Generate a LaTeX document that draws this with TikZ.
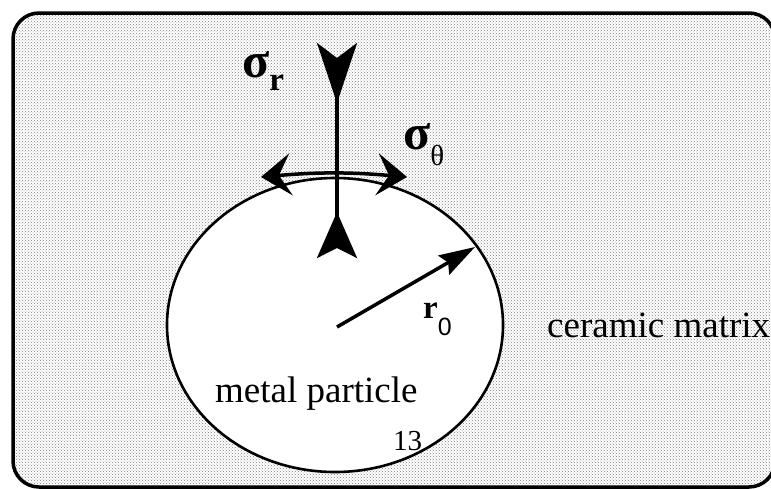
\documentclass[tikz,border=0pt]{standalone}
\usepackage{fontspec}
\setmainfont{Liberation Serif}
\newfontfamily\helv{Liberation Sans}
\usetikzlibrary{arrows.meta,patterns}

\begin{document}
\begin{tikzpicture}[
    x=1pt, y=-1pt,
    matrixbg/.style={line width=3.5pt, rounded corners=26pt, pattern=crosshatch dots, pattern color=black!50},
    particle/.style={line width=2.6pt, fill=white},
    radial/.style={line width=3.5pt},
    hoop/.style={line width=3.5pt, {Stealth[length=30pt,width=42pt,inset=12pt]}-{Stealth[length=30pt,width=42pt,inset=12pt]}},
    radius/.style={line width=3.5pt, -{Stealth[length=36pt,width=22pt,inset=5pt]}},
    lbl/.style={inner sep=0pt, anchor=base west, font=\fontsize{37}{37}\selectfont}
]
\useasboundingbox (0,0) rectangle (771,488);

% ceramic matrix (frame runs off the right edge)
\draw[matrixbg] (13,13) rectangle (775,487);

% metal particle
\draw[particle] (335,325) ellipse [x radius=168, y radius=147];

% radial stress
\coordinate (rtop) at (337,43);
\coordinate (rbot) at (337,258);
\draw[radial, {Stealth[reversed,length=60pt,width=40pt,inset=15pt]}-{Stealth[reversed,length=46pt,width=40pt,inset=10pt]}] (rtop) -- (rbot);

% hoop stress
\coordinate (hleft) at (261,177);
\coordinate (hright) at (407,177);
\draw[hoop] (hleft) to[bend left=5] (hright);

% radius
\coordinate (centre) at (337,327);
\coordinate (rim) at (475,247);
\draw[radius] (centre) -- (rim);

% labels
\node[lbl] (sigr) at (242,77) {\fontsize{50}{50}\selectfont\bfseries σ\raisebox{-13pt}{\fontsize{33}{33}\selectfont r}};
\node[lbl] (sigt) at (403,149) {\fontsize{50}{50}\selectfont\bfseries σ\raisebox{-16pt}{\mdseries\fontsize{29}{29}\selectfont θ}};
\node[lbl] (rzero) at (423,318) {\fontsize{33}{33}\selectfont\bfseries r\raisebox{-17pt}{\helv\mdseries\fontsize{25}{25}\selectfont 0}};
\node[lbl] (metal) at (215,402) {metal particle};
\node[lbl, font=\fontsize{29}{29}\selectfont] (fig) at (393,450) {13};
\node[lbl] (ceramic) at (547,337) {ceramic matrix};

\end{tikzpicture}
\end{document}
